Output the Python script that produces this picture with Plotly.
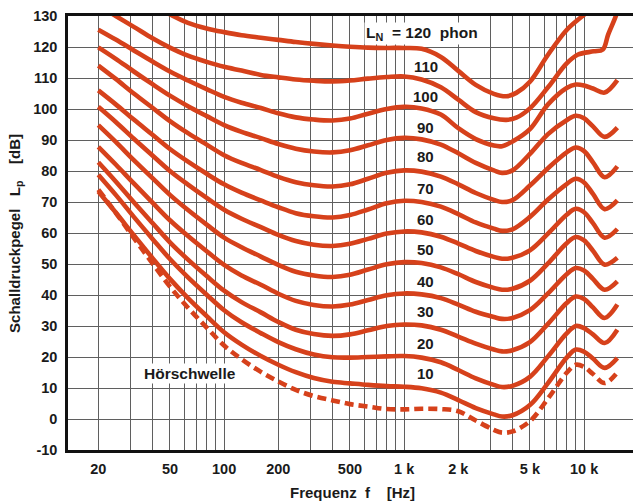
import math
import plotly.graph_objects as go

# ---------------- data ----------------
freq = [20, 25, 31.5, 40, 50, 63, 80, 100, 125, 160, 200, 250, 315, 400, 500, 630, 800,
        1000, 1250, 1600, 2000, 2500, 3150, 3500, 4000, 5000, 6300, 8000, 9000, 10000,
        11200, 13000, 15300]

threshold = [74, 66.5, 58.4, 50.2, 42.7, 35.9, 29.5, 23.7, 19.3, 15.2, 12.1, 9.4, 7.4, 6, 4.8, 4, 3.2,
             3.1, 3.3, 3.2, 2.5, -0.5, -3.5, -4.4, -4, -0.7, 6.6, 14.9, 17.5, 16.8, 14.5, 11.6, 15]
phon10 = [73.4, 66.6, 59.3, 51.9, 45.2, 39, 33.2, 28, 24, 20.3, 17.5, 15.1, 13.2, 12, 11.5, 11, 10.6,
          10.4, 9.9, 8.5, 6.1, 3.5, 1.5, 0.8, 1.2, 4.5, 11.6, 19.8, 22.4, 21.7, 19.5, 16.5, 19.7]
phon20 = [78.8, 72.3, 65.2, 58.1, 51.6, 45.7, 40.1, 35.1, 31.2, 27.7, 24.8, 22.5, 20.8, 19.9, 19.8, 20, 20.2,
          20.3, 19.8, 18.3, 15.8, 13.1, 11, 10.3, 10.7, 13.6, 20.2, 27.6, 30, 29.3, 27.3, 24.5, 28.8]
phon30 = [82.8, 76.6, 69.9, 63.2, 57, 51.4, 46.1, 41.4, 37.7, 34.4, 31.3, 28.8, 27.4, 26.8, 27.3, 28.6, 30,
          30.5, 30.2, 28.8, 26.6, 24.3, 22.4, 21.8, 22.2, 24.8, 30.7, 37.4, 39.5, 38.7, 36, 32.6, 36.9]
phon40 = [87.8, 82.1, 76, 69.8, 64.1, 59, 54.1, 49.7, 46.3, 43.3, 40.4, 38.1, 36.8, 36.3, 36.9, 38.4, 39.9,
          40.5, 40.2, 39, 36.9, 34.6, 32.9, 32.3, 32.6, 35.1, 40.5, 46.7, 48.7, 47.9, 45.2, 41.7, 44.4]
phon50 = [94.8, 89.4, 83.5, 77.7, 72.3, 67.4, 62.7, 58.5, 55.4, 52.4, 49.7, 47.5, 46.3, 45.8, 46.5, 48.2, 49.9,
          50.6, 50.3, 48.9, 46.7, 44.2, 42.3, 41.7, 42, 44.6, 50.2, 56.7, 58.7, 57.6, 54.3, 49.8, 52]
phon60 = [100.7, 95.8, 90.4, 85, 80, 75.6, 71.3, 67.5, 64.6, 61.9, 59.4, 57.4, 56.2, 55.8, 56.5, 58.1, 59.8,
          60.5, 60.2, 58.8, 56.6, 54.2, 52.3, 51.7, 52, 54.4, 59.8, 65.9, 67.8, 66.7, 63.2, 58.5, 61.3]
phon70 = [106, 101.5, 96.6, 91.7, 87.1, 83, 79.1, 75.7, 73, 70.5, 68.3, 66.4, 65.4, 65, 65.8, 67.6, 69.6,
          70.4, 70, 68.5, 66.1, 63.4, 61.4, 60.7, 61.2, 65.2, 70.8, 75.8, 77.5, 76.3, 72.6, 67.7, 70.5]
phon80 = [114, 109.7, 105, 100.4, 96.1, 92.2, 88.5, 85.1, 82.6, 80.3, 78.1, 76.4, 75.4, 75, 75.7, 77.5, 79.4,
          80.2, 79.8, 78.2, 75.7, 72.9, 70.7, 70, 70.6, 75.3, 80.9, 86, 87.6, 86.4, 82.8, 78, 81.5]
phon90 = [119.9, 116.2, 112.1, 108, 104.3, 100.9, 97.7, 94.8, 92.6, 90.6, 88.7, 87.2, 86.3, 86, 86.7, 88.3, 90,
          90.7, 90.2, 88.5, 85.7, 82.6, 80.2, 79.4, 80.2, 85.5, 91.9, 96.4, 97.8, 97, 94.4, 91, 94]
phon100 = [125.6, 122.4, 118.9, 115.3, 112.1, 109.2, 106.4, 103.9, 102, 100.3, 98.6, 97.3, 96.6, 96.3, 96.9, 98.5, 100,
           100.7, 100.2, 98.2, 93.8, 90.3, 88.2, 88, 89.5, 93.5, 101.5, 106.8, 107.9, 107.6, 106.6, 105.3, 109.3]

freq110 = [22, 25, 31.5, 40, 50, 63, 80, 100, 125, 160, 200, 250, 315, 400, 500, 630, 800, 1000, 1250,
           1600, 2000, 2500, 3150, 3700, 4200, 5000, 6300, 8000, 9200, 11300, 12700, 13600, 15000, 15500]
phon110 = [132, 130, 126.5, 122.8, 119.8, 117.2, 115.2, 113.6, 112.4, 111, 110.2, 109.5, 109.1, 108.9, 109.2,
           109.8, 110.3, 110.5, 109.5, 107, 103, 99, 97, 96.5, 97.2, 100.2, 107, 114.7, 117.5, 118.6, 119.2,
           124, 130, 133]

freq120 = [45, 52, 63, 80, 100, 125, 160, 200, 250, 315, 400, 500, 630, 800, 1000, 1250, 1600, 2000,
           2500, 3150, 3700, 4200, 5000, 6300, 8000, 9800, 10500]
phon120 = [132, 130, 127.8, 126, 124.8, 123.8, 123, 122.3, 121.6, 121, 120.5, 120.1, 119.8, 119.7, 119.7,
           119.4, 116.8, 112.3, 107.8, 104.9, 104.1, 105.2, 108.8, 117.5, 125.5, 130, 131.5]

curve_names = ["10", "20", "30", "40", "50", "60", "70", "80", "90", "100"]
curve_values = [phon10, phon20, phon30, phon40, phon50, phon60, phon70, phon80, phon90, phon100]

label_texts = ["110", "100", "90", "80", "70", "60", "50", "40", "30", "20", "10"]
label_db = [113.7, 104, 94, 84.6, 74.5, 64.3, 54.6, 44.4, 34.7, 24.5, 14.8]
label_freq = 1320

grid_freqs = [20, 30, 40, 50, 60, 70, 80, 90, 100, 200, 300, 400, 500, 600, 700, 800, 900,
              1000, 2000, 3000, 4000, 5000, 6000, 7000, 8000, 9000, 10000]
x_tick_labels = {20: "20", 50: "50", 100: "100", 200: "200", 500: "500",
                 1000: "1 k", 2000: "2 k", 5000: "5 k", 10000: "10 k"}
y_ticks = list(range(-10, 131, 10))

# ---------------- styling ----------------
RED = "#D6411B"
FONT = "Liberation Sans, Arial, Helvetica, sans-serif"
TXT = "#1a1a1a"
GRID = "rgb(95,95,95)"
SMOOTH = 1.0
LW = 4.6

fig = go.Figure()

fig.add_trace(go.Scatter(x=freq, y=threshold, mode="lines", name="Hörschwelle",
                         line=dict(color=RED, width=LW, dash="9px,5px", shape="spline", smoothing=SMOOTH),
                         hoverinfo="skip"))
for name, vals in zip(curve_names, curve_values):
    fig.add_trace(go.Scatter(x=freq, y=vals, mode="lines", name=name + " phon",
                             line=dict(color=RED, width=LW, shape="spline", smoothing=SMOOTH),
                             hoverinfo="skip"))
fig.add_trace(go.Scatter(x=freq110, y=phon110, mode="lines", name="110 phon",
                         line=dict(color=RED, width=LW, shape="spline", smoothing=SMOOTH), hoverinfo="skip"))
fig.add_trace(go.Scatter(x=freq120, y=phon120, mode="lines", name="120 phon",
                         line=dict(color=RED, width=LW, shape="spline", smoothing=SMOOTH), hoverinfo="skip"))

annotations = []
for t, d in zip(label_texts, label_db):
    annotations.append(dict(x=math.log10(label_freq), y=d, xref="x", yref="y", text=t, showarrow=False,
                            font=dict(family=FONT, size=15, color=TXT, weight="bold")))
annotations.append(dict(x=math.log10(1264), y=124.4, xref="x", yref="y",
                        text="L<sub>N</sub>\u00a0 = 120\u00a0 phon", showarrow=False, bgcolor="white",
                        font=dict(family=FONT, size=15.5, color=TXT, weight="bold")))
annotations.append(dict(x=math.log10(64.6), y=14.8, xref="x", yref="y", text="Hörschwelle",
                        showarrow=False, bgcolor="white",
                        font=dict(family=FONT, size=15.5, color=TXT, weight="bold")))
annotations.append(dict(x=0.503, y=-0.099, xref="paper", yref="paper",
                        text="Frequenz\u00a0 f\u00a0\u00a0\u00a0 [Hz]", showarrow=False,
                        xanchor="center", yanchor="middle",
                        font=dict(family=FONT, size=15, color=TXT, weight="bold")))
annotations.append(dict(x=-0.094, y=0.5, xref="paper", yref="paper",
                        text="Schalldruckpegel\u00a0\u00a0 L<sub>p</sub>\u00a0\u00a0\u00a0 [dB]", showarrow=False,
                        textangle=-90, xanchor="center", yanchor="middle",
                        font=dict(family=FONT, size=15, color=TXT, weight="bold")))

fig.update_layout(
    width=633, height=504,
    margin=dict(l=68, r=0, t=16, b=54, autoexpand=False),
    paper_bgcolor="white", plot_bgcolor="white",
    showlegend=False,
    annotations=annotations,
    xaxis=dict(type="log", range=[math.log10(13.57), math.log10(18690)], automargin=False,
               tickvals=grid_freqs, ticktext=[x_tick_labels.get(f, "") for f in grid_freqs],
               showgrid=True, gridcolor=GRID, gridwidth=1,
               showline=True, linecolor="#111", linewidth=2.5, mirror=True,
               ticks="", ticklabelstandoff=4, zeroline=False,
               tickfont=dict(family=FONT, size=14.5, color=TXT, weight="bold")),
    yaxis=dict(range=[-10, 130], tickvals=y_ticks, ticktext=[str(v) for v in y_ticks], automargin=False,
               showgrid=True, gridcolor=GRID, gridwidth=1, zeroline=False,
               showline=True, linecolor="#111", linewidth=2.5, mirror=False,
               ticks="", ticklabelstandoff=5,
               tickfont=dict(family=FONT, size=14.5, color=TXT, weight="bold")),
)

fig.write_html("out.html", config={"displayModeBar": False},
               post_script="document.body.style.margin='0px';document.body.style.overflow='hidden';")
